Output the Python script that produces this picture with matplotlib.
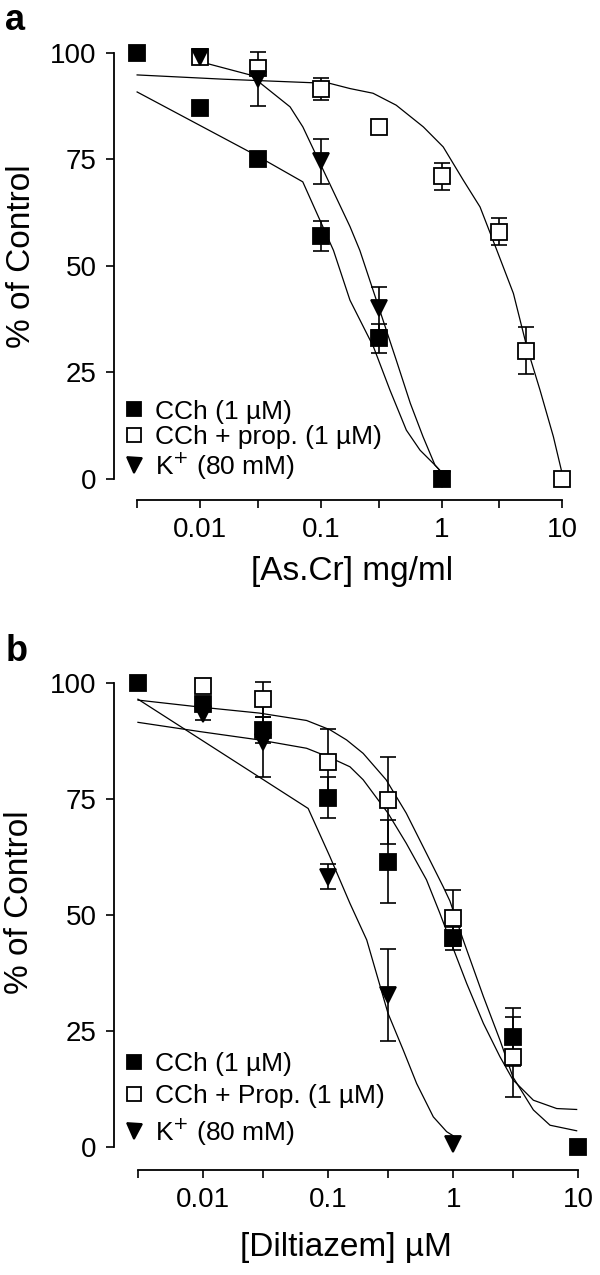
import matplotlib
matplotlib.use("Agg")
import matplotlib.pyplot as plt
from matplotlib.ticker import NullLocator

plt.rcParams["font.family"] = ["Liberation Sans", "DejaVu Sans"]

# ---- panel a: As.Cr (mg/ml) ----
cch_a_x = [0.003, 0.01, 0.03, 0.1, 0.3, 1]
cch_a_y = [100, 87, 75, 57, 33, 0]
cch_a_err = [0, 0, 0, 3.6, 3.4, 0]

prop_a_x = [0.01, 0.03, 0.1, 0.3, 1, 3, 5, 10]
prop_a_y = [99, 96.5, 91.5, 82.5, 71, 58, 30, 0]
prop_a_err = [0, 0, 2.5, 0, 3.2, 3.1, 5.5, 0]

k_a_x = [0.01, 0.03, 0.1, 0.3, 1]
k_a_y = [99, 93.8, 74.5, 40, 0]
k_a_err = [0, 6.3, 5.2, 5.0, 0]

# fitted curves as drawn
cch_a_fit_x = [0.003, 0.03, 0.0707, 0.127, 0.174, 0.272, 0.373, 0.51, 0.662, 0.88, 1.0]
cch_a_fit_y = [90.8, 75.7, 69.7, 53.6, 41.9, 31, 20.8, 11.4, 6.7, 3.2, 1.5]
prop_a_fit_x = [0.003, 0.0155, 0.119, 0.174, 0.27, 0.42, 0.705, 1.03, 1.51, 2.08, 2.86,
                3.93, 5.07, 6.53, 8.42, 10]
prop_a_fit_y = [94.8, 93.8, 92.8, 91.6, 90.5, 87.7, 82.6, 77.9, 70.1, 63.8, 53.7,
                43.5, 31, 20.8, 9.9, 1]
k_a_fit_x = [0.01, 0.0259, 0.0555, 0.0708, 0.1, 0.174, 0.21, 0.3, 0.42, 0.55, 0.7, 0.88, 1.0]
k_a_fit_y = [97.9, 94.8, 87.3, 82.6, 73.6, 59.2, 53.6, 40.4, 27.9, 17.7, 9.9, 3.2, 1.5]

# ---- panel b: Diltiazem (uM) ----
cch_b_x = [0.003, 0.01, 0.03, 0.1, 0.3, 1, 3, 10]
cch_b_y = [100, 95.5, 90, 75.3, 61.5, 45, 23.7, 0]
cch_b_err = [0, 1.5, 2.8, 4.4, 9, 2.5, 6.3, 0]

prop_b_x = [0.01, 0.03, 0.1, 0.3, 1, 3]
prop_b_y = [99.5, 96.6, 83, 74.8, 49.3, 19.4]
prop_b_err = [0, 3.8, 7.2, 9.4, 6, 8.6]

k_b_x = [0.01, 0.03, 0.1, 0.3, 1]
k_b_y = [93.5, 87.4, 58.3, 32.7, 0.5]
k_b_err = [1.5, 7.7, 2.7, 10, 0]

cch_b_fit_x = [0.003, 0.0094, 0.028, 0.067, 0.103, 0.149, 0.19, 0.3, 0.42, 0.61, 0.78,
               0.94, 1.28, 1.74, 2.36, 3.0, 4.37, 6.72, 9.7]
cch_b_fit_y = [91.6, 89.6, 87.8, 86, 84, 82, 79.2, 72, 65.5, 57.6, 50.4,
               44.6, 35.2, 26.6, 19.4, 14.4, 10, 8.2, 8]
prop_b_fit_x = [0.003, 0.0094, 0.028, 0.067, 0.103, 0.14, 0.19, 0.29, 0.42, 0.61, 0.83,
                0.94, 1.2, 1.74, 2.36, 3.0, 4.37, 5.94, 9.7]
prop_b_fit_y = [96.4, 94.9, 93.6, 92, 90, 87.8, 84.9, 79.2, 72, 63.3, 56.1,
                53, 44.6, 32.4, 23, 15, 7.9, 4.6, 3.4]
k_b_fit_x = [0.003, 0.069, 0.103, 0.149, 0.203, 0.3, 0.398, 0.509, 0.692, 0.885, 1.0]
k_b_fit_y = [96.6, 73, 62.6, 52.5, 44.6, 28.8, 20.8, 13.6, 6.4, 3.2, 2.3]

xticks = [0.003, 0.01, 0.03, 0.1, 0.3, 1, 3, 10]
xticklabels = ["", "0.01", "", "0.1", "", "1", "", "10"]
yticks = [0, 25, 50, 75, 100]

fig = plt.figure(figsize=(6, 12.75), dpi=100)
ax_a = fig.add_axes([114 / 600, 1 - 500 / 1275, 471 / 600, 460 / 1275])
ax_b = fig.add_axes([114 / 600, 1 - 1170 / 1275, 481 / 600, 500 / 1275])


def draw_series(ax, x, y, err, fit_x, fit_y, marker, face, ms):
    ax.plot(fit_x, fit_y, color="black", lw=0.9, zorder=2)
    ex = [a for a, e in zip(x, err) if e > 0]
    ey = [b for b, e in zip(y, err) if e > 0]
    ee = [e for e in err if e > 0]
    ax.errorbar(ex, ey, yerr=ee, fmt="none", ecolor="black", elinewidth=1.2,
                capsize=6, capthick=1.2, zorder=3)
    h, = ax.plot(x, y, linestyle="none", marker=marker, ms=ms, mfc=face,
                 mec="black", mew=1.3, zorder=4)
    return h


def style(ax, xlim, ylim):
    ax.set_xscale("log")
    ax.set_xlim(*xlim)
    ax.set_ylim(*ylim)
    ax.spines[["top", "right"]].set_visible(False)
    ax.spines["left"].set_bounds(0, 100)
    ax.spines["bottom"].set_bounds(0.003, 10)
    for s in ("left", "bottom"):
        ax.spines[s].set_linewidth(1.3)
    ax.set_xticks(xticks)
    ax.set_xticklabels(xticklabels)
    ax.xaxis.set_minor_locator(NullLocator())
    ax.set_yticks(yticks)
    ax.tick_params(direction="out", length=6, width=1.2, labelsize=20, pad=6.5)


# panel a
h1 = draw_series(ax_a, cch_a_x, cch_a_y, cch_a_err, cch_a_fit_x, cch_a_fit_y, "s", "black", 11)
h2 = draw_series(ax_a, prop_a_x, prop_a_y, prop_a_err, prop_a_fit_x, prop_a_fit_y, "s", "white", 11)
h3 = draw_series(ax_a, k_a_x, k_a_y, k_a_err, k_a_fit_x, k_a_fit_y, "v", "black", 12)
style(ax_a, (0.00193, 15.4), (-5.0, 103))
ax_a.set_xlabel("[As.Cr] mg/ml", fontsize=24)
ax_a.xaxis.set_label_coords(0.505, -0.122)
ax_a.set_ylabel("% of Control", fontsize=24)
ax_a.yaxis.set_label_coords(-0.163, 0.53)
ax_a.legend([h1, h2, h3], ["CCh (1 µM)", "CCh + prop. (1 µM)", "K$^{+}$ (80 mM)"],
            loc="lower left", bbox_to_anchor=(0.02, 0.04), frameon=False, fontsize=19,
            handlelength=0.8, handletextpad=0.4, labelspacing=0.05, borderpad=0,
            borderaxespad=0, markerscale=0.9)

# panel b
g1 = draw_series(ax_b, cch_b_x, cch_b_y, cch_b_err, cch_b_fit_x, cch_b_fit_y, "s", "black", 11)
g2 = draw_series(ax_b, prop_b_x, prop_b_y, prop_b_err, prop_b_fit_x, prop_b_fit_y, "s", "white", 11)
g3 = draw_series(ax_b, k_b_x, k_b_y, k_b_err, k_b_fit_x, k_b_fit_y, "v", "black", 12)
style(ax_b, (0.00193, 13.6), (-5.07, 102.9))
ax_b.set_xlabel("[Diltiazem] µM", fontsize=24)
ax_b.xaxis.set_label_coords(0.482, -0.124)
ax_b.set_ylabel("% of Control", fontsize=24)
ax_b.yaxis.set_label_coords(-0.164, 0.536)
ax_b.legend([g1, g2, g3], ["CCh (1 µM)", "CCh + Prop. (1 µM)", "K$^{+}$ (80 mM)"],
            loc="lower left", bbox_to_anchor=(0.02, 0.045), frameon=False, fontsize=19,
            handlelength=0.8, handletextpad=0.4, labelspacing=0.3, borderpad=0,
            borderaxespad=0, markerscale=0.9)

fig.text(5 / 600, 1 - 30 / 1275, "a", fontsize=26, fontweight="bold", va="baseline")
fig.text(6 / 600, 1 - 661 / 1275, "b", fontsize=26, fontweight="bold", va="baseline")

fig.savefig("out.png", dpi=100)
